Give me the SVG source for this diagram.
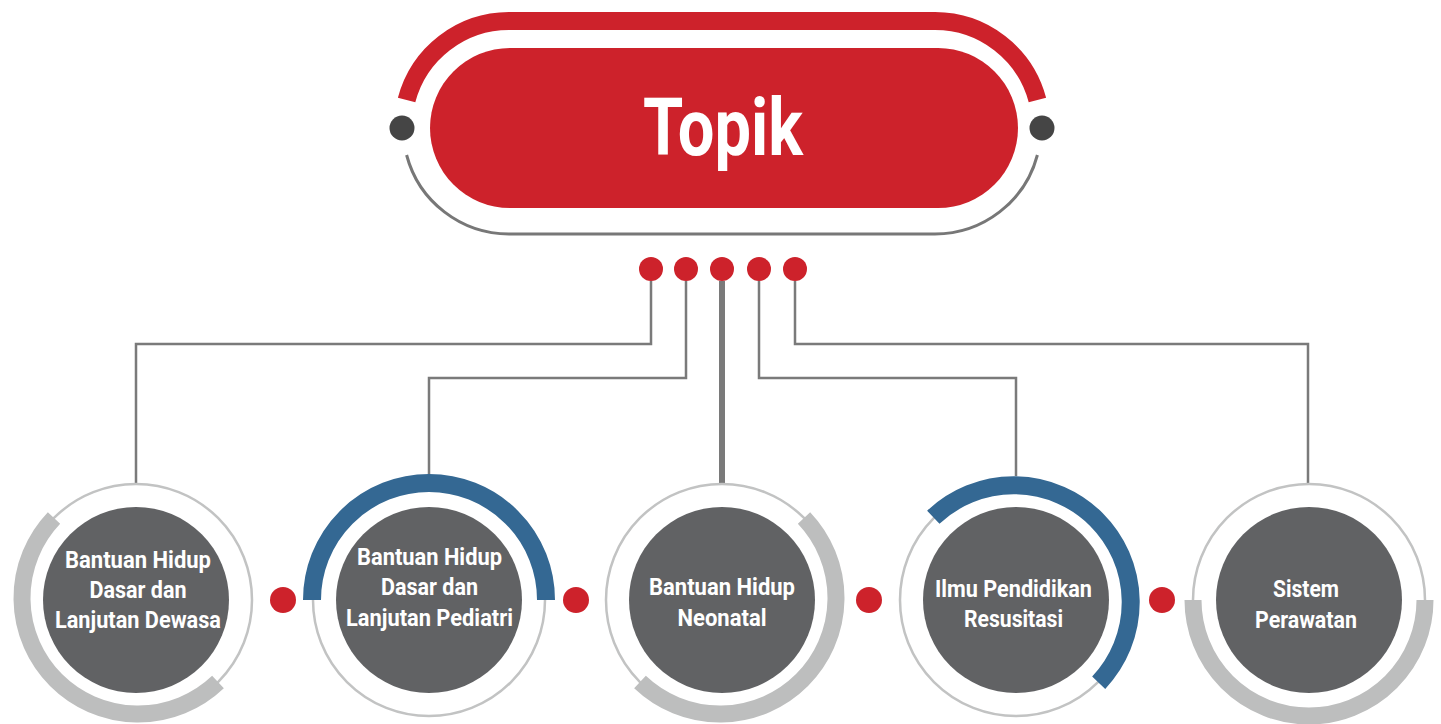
<svg xmlns="http://www.w3.org/2000/svg" width="1441" height="724" viewBox="0 0 1441 724">
  <style>
    .red { fill: #cd222b; }
    .ring { fill: none; stroke: #c2c3c3; stroke-width: 2.5; }
    .core { fill: #616264; }
    .band-gray { fill: none; stroke: #bdbebe; stroke-width: 17; }
    .band-blue { fill: none; stroke: #346893; stroke-width: 18; }
    .wire { fill: none; stroke: #7a7a7a; stroke-width: 2.5; }
    .wire-main { fill: none; stroke: #7a7a7a; stroke-width: 6; }
    .label { fill: #ffffff; font-family: Roboto, "Liberation Sans", sans-serif; font-weight: bold; font-size: 24px; text-anchor: middle; }
  </style>
  <rect width="1441" height="724" fill="#ffffff"/>

  <!-- Title pill -->
  <g id="topik">
    <path d="M 406.6 100 A 106 106 0 0 1 509 21 L 935 21 A 106 106 0 0 1 1037.4 100" fill="none" stroke="#cd222b" stroke-width="18"/>
    <path d="M 406.6 155 A 106 106 0 0 0 509 234 L 935 234 A 106 106 0 0 0 1037.4 155" fill="none" stroke="#777777" stroke-width="3"/>
    <circle cx="402" cy="128" r="12.5" fill="#454545"/>
    <circle cx="1042" cy="128" r="12.5" fill="#454545"/>
    <rect class="red" x="430" y="48" width="588" height="160" rx="80" ry="80"/>
    <text x="723" y="155" fill="#ffffff" font-family="Roboto, 'Liberation Sans', sans-serif" font-weight="bold" font-size="80" text-anchor="middle" textLength="160" lengthAdjust="spacingAndGlyphs">Topik</text>
  </g>

  <!-- Connectors from the title to each topic -->
  <g id="connectors">
    <path class="wire" d="M 651 281 V 344 H 136 V 484"/>
    <path class="wire" d="M 686 281 V 378 H 429 V 476"/>
    <path class="wire-main" d="M 722 281 V 484"/>
    <path class="wire" d="M 759 281 V 378 H 1016 V 476"/>
    <path class="wire" d="M 795 281 V 344 H 1308 V 484"/>
    <circle class="red" cx="651" cy="269" r="12"/>
    <circle class="red" cx="686" cy="269" r="12"/>
    <circle class="red" cx="722" cy="269" r="12"/>
    <circle class="red" cx="759" cy="269" r="12"/>
    <circle class="red" cx="795" cy="269" r="12"/>
    <circle class="red" cx="283" cy="600" r="13"/>
    <circle class="red" cx="576" cy="600" r="13"/>
    <circle class="red" cx="869" cy="600" r="13"/>
    <circle class="red" cx="1162" cy="600" r="13"/>
  </g>

  <g id="node-dewasa">
    <circle class="ring" cx="136" cy="600" r="116"/>
    <path class="band-gray" d="M 218 682 A 116 116 0 0 1 54 518"/>
    <circle class="core" cx="136" cy="600" r="93"/>
    <text class="label" x="138" y="568" textLength="146" lengthAdjust="spacingAndGlyphs">Bantuan Hidup</text>
    <text class="label" x="138" y="598" textLength="97" lengthAdjust="spacingAndGlyphs">Dasar dan</text>
    <text class="label" x="138" y="628" textLength="166" lengthAdjust="spacingAndGlyphs">Lanjutan Dewasa</text>
  </g>

  <g id="node-pediatri">
    <circle class="ring" cx="429" cy="600" r="116"/>
    <path class="band-blue" d="M 312 600 A 117 117 0 0 1 546 600"/>
    <circle class="core" cx="429" cy="600" r="93"/>
    <text class="label" x="429.5" y="565" textLength="145" lengthAdjust="spacingAndGlyphs">Bantuan Hidup</text>
    <text class="label" x="429.5" y="595" textLength="97" lengthAdjust="spacingAndGlyphs">Dasar dan</text>
    <text class="label" x="429.5" y="626" textLength="167" lengthAdjust="spacingAndGlyphs">Lanjutan Pediatri</text>
  </g>

  <g id="node-neonatal">
    <circle class="ring" cx="722" cy="600" r="116"/>
    <path class="band-gray" d="M 804 518 A 116 116 0 0 1 640 682"/>
    <circle class="core" cx="722" cy="600" r="93"/>
    <text class="label" x="722" y="595" textLength="146" lengthAdjust="spacingAndGlyphs">Bantuan Hidup</text>
    <text class="label" x="722" y="626" textLength="89" lengthAdjust="spacingAndGlyphs">Neonatal</text>
  </g>

  <g id="node-resusitasi">
    <circle class="ring" cx="1016" cy="600" r="116"/>
    <path class="band-blue" d="M 933.3 517.3 A 117 117 0 0 1 1098.7 682.7"/>
    <circle class="core" cx="1016" cy="600" r="93"/>
    <text class="label" x="1013.5" y="597" textLength="157" lengthAdjust="spacingAndGlyphs">Ilmu Pendidikan</text>
    <text class="label" x="1013.5" y="627" textLength="99" lengthAdjust="spacingAndGlyphs">Resusitasi</text>
  </g>

  <g id="node-perawatan">
    <circle class="ring" cx="1309" cy="600" r="116"/>
    <path class="band-gray" d="M 1425 600 A 116 116 0 0 1 1193 600"/>
    <circle class="core" cx="1309" cy="600" r="93"/>
    <text class="label" x="1306" y="597" textLength="66" lengthAdjust="spacingAndGlyphs">Sistem</text>
    <text class="label" x="1306" y="628" textLength="102" lengthAdjust="spacingAndGlyphs">Perawatan</text>
  </g>
</svg>
